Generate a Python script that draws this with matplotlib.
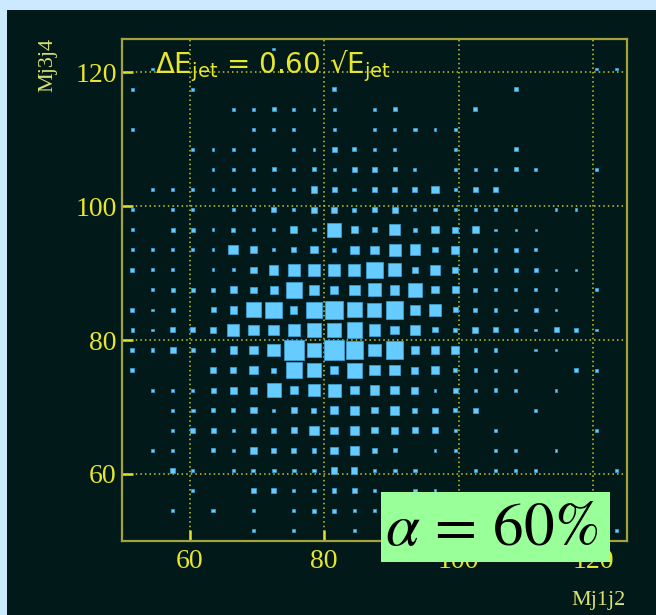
#2D box histogram of dijet masses, dE = 0.60 sqrt(E)
import numpy as np
import matplotlib
matplotlib.use("Agg")
import matplotlib.pyplot as plt
from matplotlib.patches import Rectangle

#bin edges (3 GeV bins from 50 to 125)
x_edges = np.arange(50, 126, 3)
y_edges = np.arange(50, 126, 3)

#bin contents, one row per Mj3j4 bin, top row first
counts_top_down = [
    # 0   1   2   3   4   5   6   7   8   9  10  11  12  13  14  15  16  17  18  19  20  21  22  23  24
    [0,   0,  0,  0,  0,  0,  0,  1,  0,  0,  0,  0,  0,  0,  0,  0,  0,  0,  0,  0,  0,  0,  0,  0,  0],
    [0,   1,  0,  0,  0,  0,  0,  0,  0,  0,  0,  0,  0,  0,  0,  0,  0,  0,  0,  0,  0,  0,  0,  1,  1],
    [1,   0,  0,  1,  0,  0,  0,  0,  0,  0,1.5,  0,  0,  0,  0,  0,  0,  0,  0,  2,  0,  0,  0,  0,  0],
    [0,   0,  0,  0,  0,  1,  1,  2,  1,  1,  1,  0,  1,  2,  0,  0,  0,  2,  0,  0,  0,  0,  0,  0,  0],
    [1,   0,  0,  0,  0,  0,  1,  1,1.5,  0,  1,  0,  1,1.5,1.5,  1,  1,  0,  0,  0,  0,  0,  0,  0,  0],
    [0,   0,  0,  1,  1,  1,  1,  0,  1,  1,  3,  2,1.5,1.5,  0,  0,  1,  0,  0,  2,  0,  0,  0,  0,  0],
    [0,   0,  0,  0,  1,  1,  1,  2,  1,  2,  1,  3,2.5,  2,  1,  0,  1,  1,  1,  2,  1,  0,  0,  1,  0],
    [0,   1,  1,  1,  1,1.5,1.5,1.5,1.5,  4,  3,  2,2.5,  3,  3,  5,  1,2.5,2.5,  0,  0,  0,  0,  0,  0],
    [1,   0,  1,  1,  0,1.5,1.5,  3,1.5,  4,  4,  2,2.5,  4,  1,1.5,1.5,  1,  1,  1,  0,0.5,0.5,  0,  0],
    [1,   0,  2,  2,  1,  2,1.5,1.5,4.5,1.5, 11,  5,  3,  8,  2,  5,  4,  5,0.5,0.5,0.5,  0,  0,  0,  0],
    [1,   1,  1,  1,  1,  7,  5,1.5,  3,  5,  2,  6,  6,  9,  8,  3,  6,  2,  2,  2,  1,  0,  0,  0,  0],
    [2,   1,  1,  0,  1,  1,  4,  7,  9,  9,  9,  9, 13, 10,  4,  7,  4,  2,  2,  2,  2,0.5,0.5,  0,  0],
    [0,   1,  2,  2,2.5,  5,4.5,5.5, 13,  7,  6,  8, 10,  7, 11,  5,  5,  2,  1,  1,  1,  1,  0,  1,  0],
    [2,   1,  2,  0,  3,  5, 12, 13,  5, 13, 15, 12, 11, 14,  7,  9,  3,  2,  2,  1,  2,  1,  0,  0,  0],
    [1.5, 1,  3,  3,  4,  9,  8,  8,  9, 11, 11, 12,  9,  6,  7,  3,  2,  4,  3,  2,  1,  3,  2,  1,  0],
    [2, 1.5,  4,1.5,1.5,  5,  6, 10, 17, 11, 18, 14, 10, 14,  6,  6,  6,1.5,  2,  0,  1,  1,  0,  0,  0],
    [2,   0,  0,  0,  4,  4,  6,  3, 13, 11,  6, 12,  8,  8,  5,  6,  2,1.5,  1,  1,  0,  0,  2,  1,  0],
    [0,   1,  1,  1,  3,  5,  5, 11,  6,  9, 10,  6,  7,  6,  5,  1,  3,  1,  2,  1,  0,  1,  0,  0,  0],
    [0,   0,  1,1.5,  2,2.5,  4,1.5,  4,  3,  6,  7,  4,  7,  3,  3,  2,  3,  0,  0,  1,  0,  0,  0,  0],
    [0,   0,  1,  3,  3,1.5,  3,  3,  4,  7,  5,  7,  4,  5,  4,  4,  1,  0,  1,  0,  0,  0,  0,  1,  0],
    [0,   1,  1,  0,  2,1.5,  5,  3,  3,2.5,  5,  6,  3,  2,  0,  1,  1,  0,  1,  1,  0,  1,  0,  0,  0],
    [0,   0,  3,  1,  0,1.5,  2,  2,  2,  2,  4,  4,  1,  2,  2,  0,  0,  1,  1,  1,  1,  0,  0,  0,  1],
    [0,   0,  0,  1,  0,  0,2.5,2.5,1.5,1.5,2.5,  3,  2,  0,1.5,  1,  0,  0,  0,  0,  0,  0,  0,  0,  0],
    [0,   0,1.5,  0,1.5,  0,1.5,  0,1.5,  2,  2,1.5,  1,  1,  0,  0,  0,  0,  0,  0,  0,  0,  0,  0,  0],
    [0,   0,  0,  0,  0,  0,1.5,  0,1.5,  0,  0,1.5,  0,  0,  0,  0,  0,  0,  0,  0,  0,  0,  0,  0,  1],
]
counts = np.array(counts_top_down, dtype=float)[::-1]   # row 0 = lowest Mj3j4 bin

tick_values = [60, 80, 100, 120]
tick_labels = [str(v) for v in tick_values]

#colours
page_col = '#cbeaff'
panel_col = '#021919'
frame_col = '#a3a33c'
yellow = '#e6e62e'
box_face = '#66ccff'
box_edge = '#3c9ccc'

plt.rcParams['font.family'] = 'Liberation Serif'
plt.rcParams['xtick.labelsize'] = 20
plt.rcParams['ytick.labelsize'] = 20

fig = plt.figure(figsize=(6.56, 6.15), dpi=100)
fig.patch.set_facecolor(page_col)

#dark canvas behind the plot
fig.patches.append(Rectangle((7 / 656, 0), 1 - 7 / 656, 1 - 10 / 615,
                             transform=fig.transFigure, facecolor=panel_col,
                             edgecolor='none', zorder=-5))

ax = fig.add_axes([0.1864, 0.1208, 0.7689, 0.8158])
ax.set_facecolor(panel_col)
ax.set_xlim(50, 125)
ax.set_ylim(50, 125)

#boxes: side grows with content, capped at the cell width
cmax = counts.max()
xc = 0.5 * (x_edges[:-1] + x_edges[1:])
yc = 0.5 * (y_edges[:-1] + y_edges[1:])
for j in range(len(yc)):
    for i in range(len(xc)):
        c = counts[j, i]
        if c <= 0:
            continue
        side = 3.0 * min(1.0, (c + 1.5) / cmax)
        ax.add_patch(Rectangle((xc[i] - side / 2, yc[j] - side / 2), side, side,
                               facecolor=box_face, edgecolor=box_edge,
                               linewidth=0.6, zorder=3))

#dotted grid
for v in tick_values:
    ax.axvline(v, color='#c8c828', linestyle=(0, (1, 2)), linewidth=1.1, zorder=2)
    ax.axhline(v, color='#c8c828', linestyle=(0, (1, 2)), linewidth=1.1, zorder=2)

ax.set_xticks(tick_values, tick_labels)
ax.set_yticks(tick_values, tick_labels)
ax.tick_params(direction='in', length=8, width=1.8, color=yellow,
               labelcolor=yellow, labelsize=20, top=False, right=False)
ax.tick_params(axis='y', pad=4)
ax.tick_params(axis='x', pad=6)
for s in ax.spines.values():
    s.set_color(frame_col)
    s.set_linewidth(1.6)

#axis titles
fig.text(48 / 656, 1 - 38 / 615, 'Mj3j4', rotation=90, ha='center', va='top',
         color='#d8e070', fontsize=16)
fig.text(626 / 656, 1 - 601 / 615, 'Mj1j2', ha='right', va='center',
         color='#d8e070', fontsize=16)

#resolution label
fig.text(155 / 656, 1 - 73 / 615,
         r'ΔE$_{\mathregular{jet}}$ = 0.60 √E$_{\mathregular{jet}}$',
         ha='left', va='baseline', color=yellow, fontsize=20, family='DejaVu Sans')

#green alpha box
fig.patches.append(Rectangle((381 / 656, 1 - 562 / 615), 229 / 656, 70 / 615,
                             transform=fig.transFigure, facecolor='#99ff99',
                             edgecolor='none', zorder=5))
fig.text(492 / 656, 1 - 530 / 615, r'$\alpha\, =\, 60\%$', ha='center', va='center',
         color='black', fontsize=44, math_fontfamily='stix', zorder=6)

fig.savefig('out.png', dpi=100, facecolor=page_col)
